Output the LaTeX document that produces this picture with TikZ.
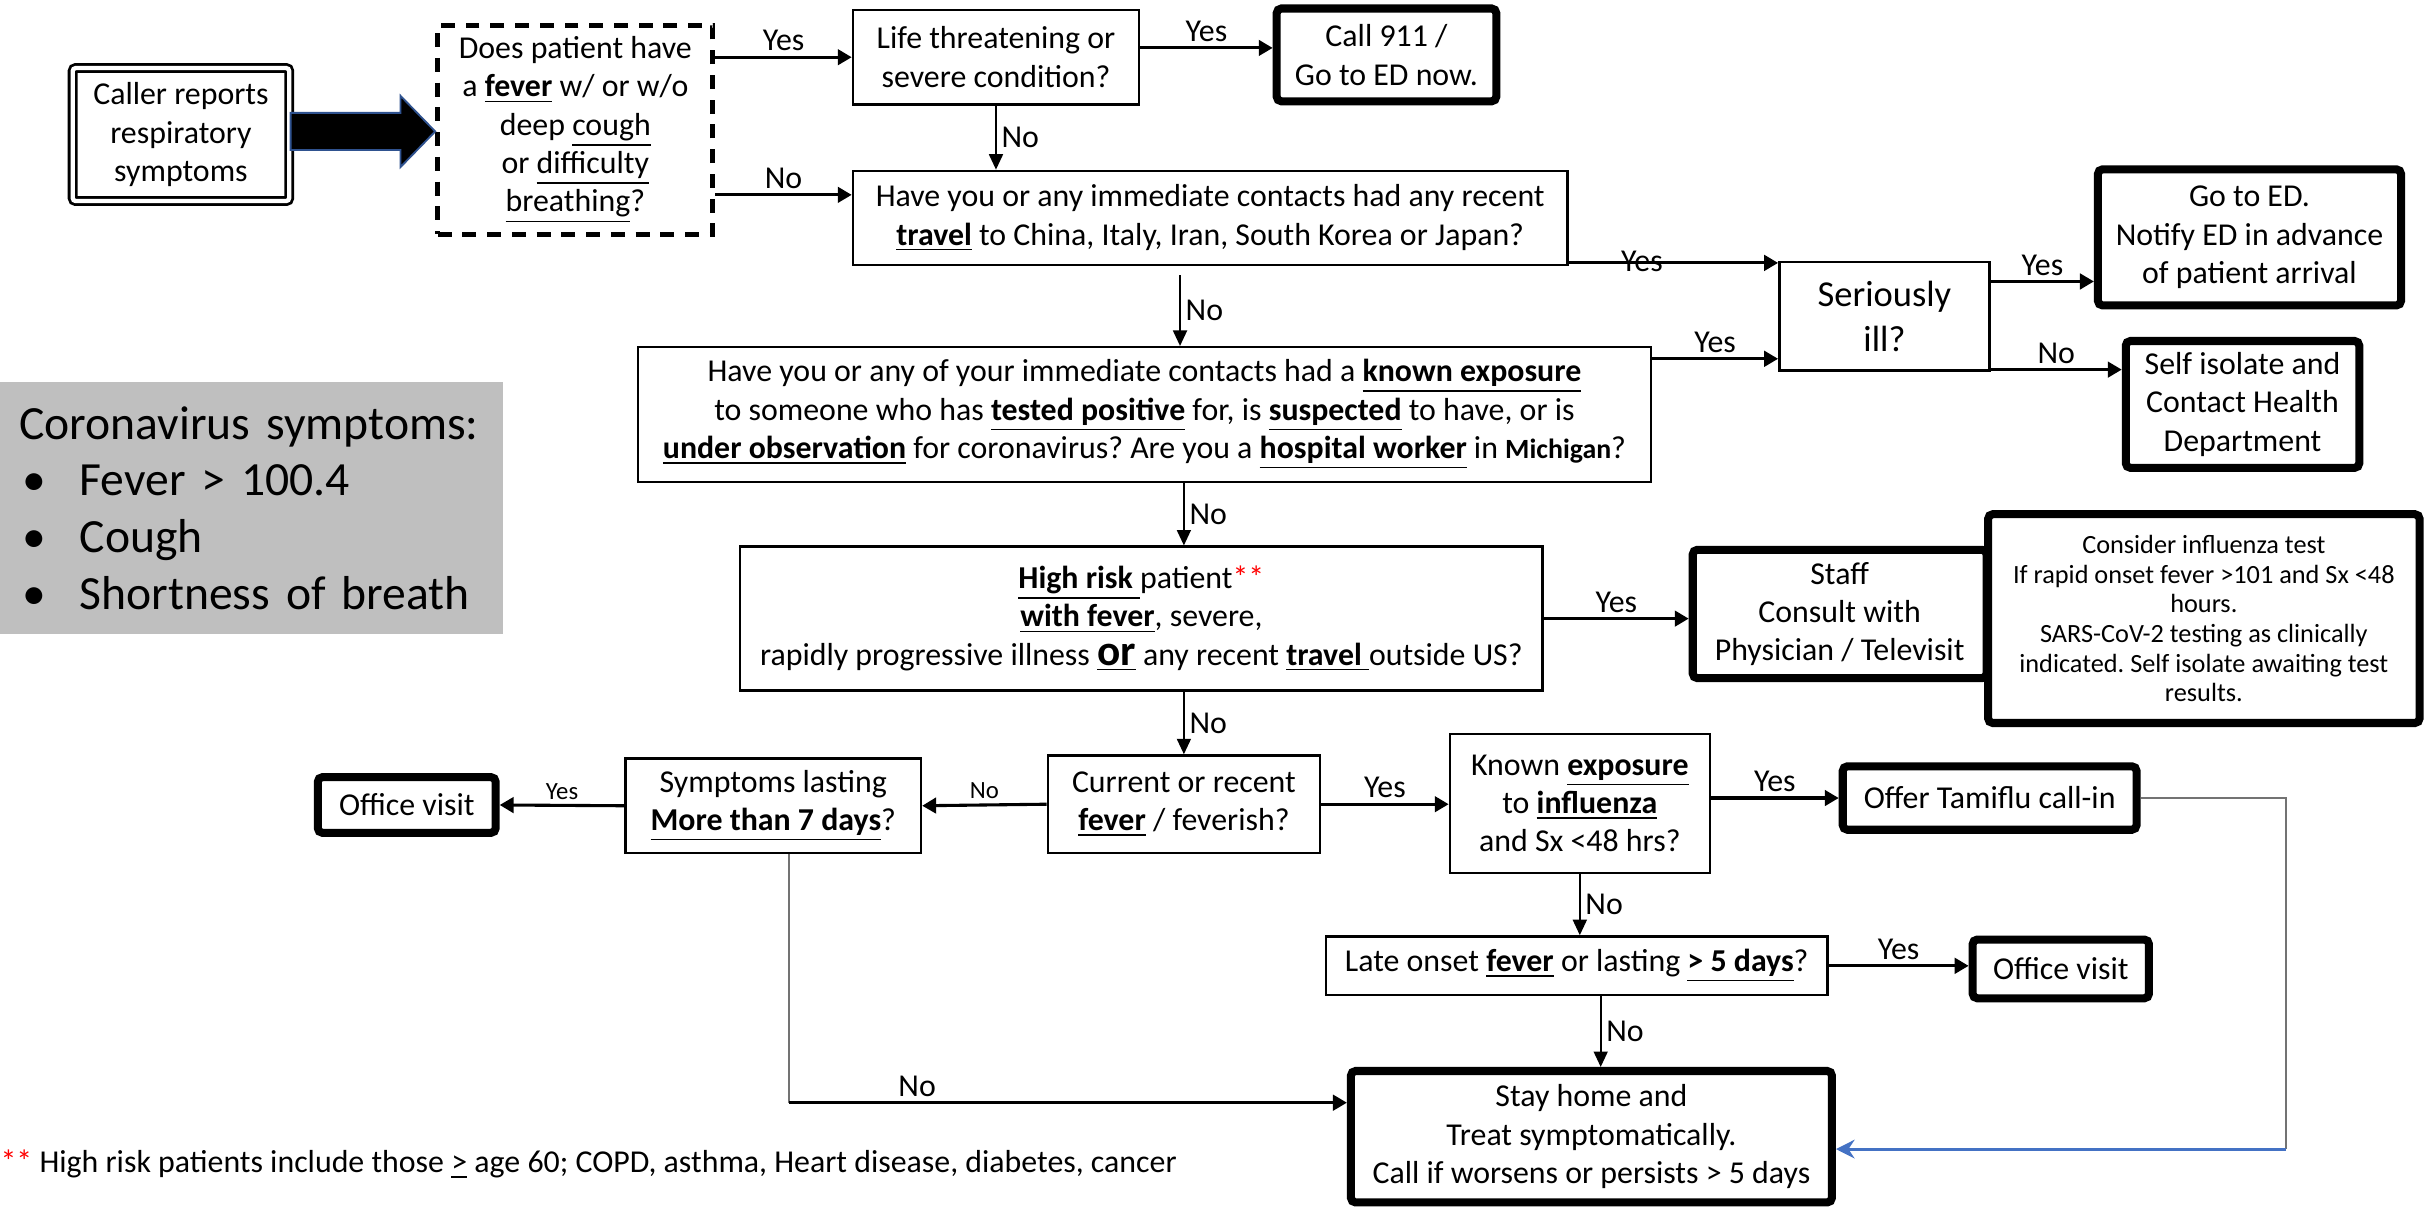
\documentclass[tikz,border=0pt]{standalone}
\usepackage{fontspec}
\setmainfont{Carlito}
\usetikzlibrary{arrows.meta}
\frenchspacing

\definecolor{symgray}{HTML}{BFBFBF}
\definecolor{arrowblue}{HTML}{2F528F}
\definecolor{linkblue}{HTML}{4472C4}
\newcommand{\bu}[1]{\underline{\textbf{#1}}}

\begin{document}
\begin{tikzpicture}
[x=0.5pt, y=-0.5pt,
font=\fontsize{10.3}{12.4}\selectfont,
box/.style={draw, fill=white, line width=0.8pt, align=center, inner sep=1pt},
endbox/.style={box, line width=2.6pt, rounded corners=1.5pt},
callbox/.style={box, double, double distance=1.4pt, line width=0.9pt, rounded corners=1pt},
askbox/.style={box, line width=1.6pt, dash pattern=on 4.5pt off 3.5pt},
arr/.style={line width=1pt, -{Triangle[length=4.5pt,width=5pt]}},
varr/.style={line width=0.65pt, -{Triangle[length=5pt,width=4.5pt]}},
barr/.style={line width=1pt, linkblue, -{Stealth[length=6pt,width=6pt]}},
gline/.style={line width=0.5pt, black!55},
lbl/.style={inner sep=1.5pt},
lbls/.style={inner sep=1.5pt, font=\fontsize{8}{9}\selectfont},
]
\useasboundingbox (0,0) rectangle (1568,780);

\node[callbox, minimum width=70pt, minimum height=43pt] (caller) at (117,87) {Caller reports\\respiratory\\symptoms};
\node[askbox, minimum width=89pt, minimum height=67.5pt] (fever) at (372,84) {Does patient have\\a \bu{fever} w/ or w/o\\deep \underline{cough}\\or \underline{difficulty}\\\underline{breathing}?};
\node[box, minimum width=92.5pt, minimum height=30.5pt] (life) at (644,37) {Life threatening or\\severe condition?};
\node[endbox, minimum width=71pt, minimum height=30pt] (call) at (896.5,35.5) {Call 911 /\\Go to ED now.};
\node[box, minimum width=231pt, minimum height=30.5pt] (travel) at (782.5,141) {Have you or any immediate contacts had any recent\\\bu{travel} to China, Italy, Iran, South Korea or Japan?};
\node[box, minimum width=68pt, minimum height=35pt, font=\fontsize{11.8}{14.5}\selectfont] (ill) at (1218.5,204.5) {Seriously\\ill?};
\node[endbox, minimum width=98pt, minimum height=44pt] (goed) at (1454.5,153.5) {Go to ED.\\Notify ED in advance\\of patient arrival};
\node[endbox, minimum width=75.5pt, minimum height=41pt] (isolate) at (1450,261.5) {Self isolate and\\Contact Health\\Department};
\node[box, minimum width=327.5pt, minimum height=43.5pt] (exposure) at (740,268) {Have you or any of your immediate contacts had a \bu{known exposure}\\to someone who has \bu{tested positive} for, is \bu{suspected} to have, or is\\\bu{under observation} for coronavirus? Are you a \bu{hospital worker} in {\fontsize{9}{10}\selectfont\bfseries Michigan}?};
\node[box, minimum width=259.5pt, minimum height=46.5pt] (risk) at (738,400) {\bu{High risk\ }patient\textcolor{red}{**}\\\bu{with fever}, severe,\\rapidly progressive illness \bu{\fontsize{14}{14}\selectfont or} any recent \bu{travel\ }outside US?};
\node[endbox, minimum width=95pt, minimum height=41.5pt] (staff) at (1189.5,397) {Staff\\Consult with\\Physician / Televisit};
\node[endbox, minimum width=139.5pt, minimum height=67.5pt, font=\fontsize{8.5}{9.6}\selectfont] (flu) at (1425,400) {Consider influenza test\\If rapid onset fever >101 and Sx <48\\hours.\\SARS-CoV-2 testing as clinically\\indicated. Self isolate awaiting test\\results.};
\node[box, minimum width=88pt, minimum height=31.5pt] (current) at (765.5,520) {Current or recent\\\bu{fever} / feverish?};
\node[box, minimum width=95.5pt, minimum height=30.5pt] (lasting) at (500,521) {Symptoms lasting\\\bu{More than 7 days}?};
\node[endbox, minimum width=57.5pt, minimum height=18pt] (office) at (263,520.5) {Office visit};
\node[box, minimum width=84pt, minimum height=45pt] (known) at (1021.5,519.5) {Known \bu{exposure}\\to \bu{influenza}\\and Sx <48 hrs?};
\node[endbox, minimum width=95pt, minimum height=20.5pt] (tamiflu) at (1286.5,516) {Offer Tamiflu call-in};
\node[box, minimum width=162pt, minimum height=19pt] (late) at (1019.5,624.5) {Late onset \bu{fever} or lasting \bu{> 5 days}?};
\node[endbox, minimum width=57pt, minimum height=19pt] (visit) at (1332.5,626.5) {Office visit};
\node[endbox, minimum width=155.5pt, minimum height=42.5pt] (home) at (1029,735) {Stay home and\\Treat symptomatically.\\Call if worsens or persists > 5 days};

\node[fill=symgray, minimum width=162.5pt, minimum height=81.5pt, text width=150pt, inner xsep=6.5pt, align=left, font=\fontsize{15.4}{18.3}\selectfont] (symptoms) at (162.5,328.5) {Coronavirus symptoms:\\\hspace*{1pt}\makebox[18.5pt][l]{•}Fever > 100.4\\\hspace*{1pt}\makebox[18.5pt][l]{•}Cough\\\hspace*{1pt}\makebox[18.5pt][l]{•}Shortness of breath};
\node[anchor=west, inner sep=0pt] (note) at (0,753) {\textcolor{red}{**} High risk patients include those \underline{>} age 60; COPD, asthma, Heart disease, diabetes, cancer};

\filldraw[fill=black, draw=arrowblue, line width=0.6pt] (caller.east |- 0,73) -- (259,73) -- (259,62) -- (fever.west |- 0,85) -- (259,108) -- (259,97) -- (caller.east |- 0,97) -- cycle;

\draw[arr] (fever.east |- life.west) -- node[lbl, above] (yes1) {Yes} (life.west);
\draw[arr] (fever.east |- 0,126) -- node[lbl, above] (no1) {No} (travel.west |- 0,126);
\draw[arr] (life.east |- 0,31) -- node[lbl, above] (yes2) {Yes} (call.west |- 0,31);
\draw[varr] (life.south) -- node[lbl, right] (no2) {No} (life.south |- travel.north);
\draw[arr] (travel.east |- 0,170) -- node[lbl, above, pos=0.35, yshift=-5pt] (yes3) {Yes} (ill.west |- 0,170);
\draw[arr] (ill.east |- 0,182) -- node[lbl, above] (yes4) {Yes} (goed.west |- 0,182);
\draw[arr] (ill.east |- 0,239) -- node[lbl, above] (no3) {No} (isolate.west |- 0,239);
\coordinate (tn) at (763,178);
\draw[varr] (tn) -- node[lbl, right] (no4) {No} (tn |- exposure.north);
\draw[arr] (exposure.east |- 0,232) -- node[lbl, above] (yes5) {Yes} (ill.west |- 0,232);
\draw[varr] (current.north |- exposure.south) -- node[lbl, right] (no5) {No} (current.north |- risk.north);
\draw[arr] (risk.east) -- node[lbl, above] (yes6) {Yes} (staff.west |- risk.east);
\draw[varr] (current.north |- risk.south) -- node[lbl, right] (no6) {No} (current.north);
\draw[arr] (current.west) -- node[lbls, above] (no7) {No} (lasting.east);
\draw[arr] (lasting.west) -- node[lbls, above] (yes7) {Yes} (office.east);
\draw[arr] (current.east) -- node[lbl, above] (yes8) {Yes} (known.west |- current.east);
\draw[arr] (known.east |- tamiflu.west) -- node[lbl, above] (yes9) {Yes} (tamiflu.west);
\draw[varr] (known.south) -- node[lbl, right] (no8) {No} (known.south |- late.north);
\draw[arr] (late.east) -- node[lbl, above] (yes10) {Yes} (visit.west |- late.east);
\coordinate (hn) at ([xshift=3pt]home.north);
\draw[varr] (hn |- late.south) -- node[lbl, right] (no9) {No} (hn);

\coordinate (tc) at (1478,743);
\draw[gline] (tamiflu.east) -- (tc |- 0,516) -- (tc);
\draw[barr] (tc) -- (home.east |- tc);

\coordinate (sc) at (510,713);
\draw[gline] (sc |- lasting.south) -- (sc);
\draw[arr] (sc) -- node[lbl, above, pos=0.23] (no10) {No} (home.west |- sc);
\end{tikzpicture}
\end{document}
